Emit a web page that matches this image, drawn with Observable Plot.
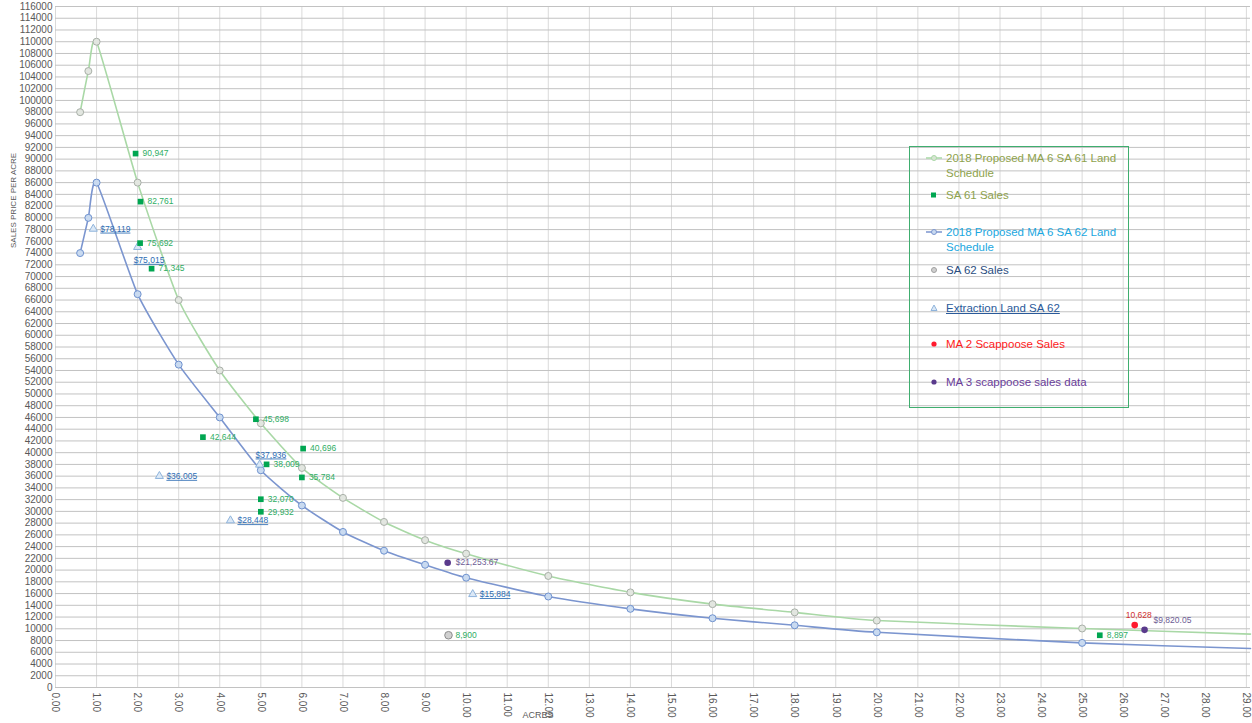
<!DOCTYPE html>
<html><head><meta charset="utf-8">
<script src="https://cdn.jsdelivr.net/npm/d3@7"></script>
<script src="https://cdn.jsdelivr.net/npm/@observablehq/plot@0.6"></script>
<style>
body{margin:0;background:#fff;font-family:"Liberation Sans",Arial,sans-serif;}
#wrap{position:relative;width:1252px;height:723px;overflow:hidden;}
#chart{position:absolute;left:0;top:0;}
#legend{position:absolute;left:909px;top:146px;width:218px;height:260px;border:1.5px solid #3fae6f;}
.le{position:absolute;left:0;font-size:11.5px;line-height:15px;white-space:nowrap;}
.le svg{position:absolute;left:16px;}
.le span{position:absolute;left:36px;}
</style></head>
<body><div id="wrap"><div id="chart"></div><div id="legend"></div></div>
<script>
// ---- data ----
const sa61SchedAcres = [0.6, 0.8, 1, 2, 3, 4, 5, 6, 7, 8, 9, 10, 12, 14, 16, 18, 20, 25, 29.1];
const sa61SchedPrice = [98000, 105000, 110000, 86000, 66000, 54000, 45000, 37400, 32300, 28200, 25100, 22800, 19000, 16200, 14200, 12800, 11400, 10050, 9100];
const sa62SchedAcres = [0.6, 0.8, 1, 2, 3, 4, 5, 6, 7, 8, 9, 10, 12, 14, 16, 18, 20, 25, 29.1];
const sa62SchedPrice = [74000, 80000, 86000, 67000, 55000, 46000, 37000, 31000, 26500, 23300, 20900, 18700, 15500, 13400, 11800, 10600, 9400, 7600, 6650];
const sa61SalesAcres = [1.95, 2.07, 2.06, 2.34, 4.88, 3.59, 6.03, 5.14, 6.0, 5.0, 5.0, 25.43];
const sa61SalesPrice = [90947, 82761, 75692, 71345, 45698, 42644, 40696, 38009, 35784, 32070, 29932, 8897];
const sa62SalesAcres = [9.57];
const sa62SalesPrice = [8900];
const extractionAcres = [0.92, 2.0, 2.53, 4.97, 4.26, 10.16];
const extractionPrice = [78119, 75015, 36005, 37936, 28448, 15884];
const ma2Acres = [26.28];
const ma2Price = [10628];
const ma3Acres = [9.55, 26.52];
const ma3Price = [21253.67, 9820.05];
const xTicks = [0,1,2,3,4,5,6,7,8,9,10,11,12,13,14,15,16,17,18,19,20,21,22,23,24,25,26,27,28,29];
const yTicks = d3.range(0, 116001, 2000);

// ---- build tables ----
const zip = (a, p) => a.map((v, i) => ({acres: v, price: p[i]}));
const sa61Sched = zip(sa61SchedAcres, sa61SchedPrice);
const sa62Sched = zip(sa62SchedAcres, sa62SchedPrice);
const sa61Sales = zip(sa61SalesAcres, sa61SalesPrice);
const sa62Sales = zip(sa62SalesAcres, sa62SalesPrice);
const extraction = zip(extractionAcres, extractionPrice);
const ma2 = zip(ma2Acres, ma2Price);
const ma3 = zip(ma3Acres, ma3Price);
const fInt = d3.format(",");
const fUsd = d3.format("$,");
const fUsd2 = d3.format("$,.2f");
const markerPts = (arr) => arr.slice(0, arr.length - 1);

const extAbove = new Set([37936]);
const extBelow = new Set([75015]);
const extRight = extraction.filter(d => !extAbove.has(d.price) && !extBelow.has(d.price));
const ma3Right = ma3.filter(d => d.acres < 20);
const ma3Up = ma3.filter(d => d.acres >= 20);

const EXT = "#2e6db4", FONT = '"Liberation Sans", Arial, sans-serif';
const lbl = {fontSize: 8.5, textAnchor: "start"};
const smooth = {curve: "cardinal", tension: 0.45};

const chart = Plot.plot({
  width: 1252, height: 723,
  marginLeft: 55, marginRight: 2, marginTop: 6, marginBottom: 36,
  style: {fontFamily: FONT, fontSize: "10px", color: "#595959", background: "transparent"},
  x: {domain: [0, 29.1], ticks: xTicks, tickFormat: d => d.toFixed(2), tickRotate: 90, tickSize: 0, tickPadding: 5, label: null},
  y: {domain: [0, 116000], ticks: yTicks, tickFormat: d => String(d), tickSize: 0, tickPadding: 3, label: null},
  marks: [
    Plot.ruleX(xTicks, {stroke: "#dadada"}),
    Plot.ruleY(yTicks, {stroke: "#c2c2c2"}),
    Plot.line(sa61Sched, {x: "acres", y: "price", stroke: "#a9d8a6", strokeWidth: 1.6, ...smooth}),
    Plot.line(sa62Sched, {x: "acres", y: "price", stroke: "#7b95cf", strokeWidth: 1.6, ...smooth}),
    Plot.dot(markerPts(sa61Sched), {x: "acres", y: "price", r: 3.5, fill: "#e2e6e0", stroke: "#a9b0a8", strokeWidth: 1}),
    Plot.dot(markerPts(sa62Sched), {x: "acres", y: "price", r: 3.5, fill: "#c9daf0", stroke: "#6f92cf", strokeWidth: 1}),
    Plot.dot(sa62Sales, {x: "acres", y: "price", r: 3.8, fill: "#d0d0d0", stroke: "#8c8c8c", strokeWidth: 1}),
    Plot.dot(extraction, {x: "acres", y: "price", symbol: "triangle", r: 3, fill: "#dbe8f6", stroke: "#8fb4dc", strokeWidth: 1}),
    Plot.dot(sa61Sales, {x: "acres", y: "price", symbol: "square", r: 3.2, fill: "#00a651"}),
    Plot.dot(ma2, {x: "acres", y: "price", r: 3.3, fill: "#ff1a2e"}),
    Plot.dot(ma3, {x: "acres", y: "price", r: 3.3, fill: "#5a3a8c"}),
    Plot.text(sa61Sales, {x: "acres", y: "price", text: d => fInt(d.price), dx: 7, fill: "#2fae64", ...lbl}),
    Plot.text(sa62Sales, {x: "acres", y: "price", text: d => fInt(d.price), dx: 7, fill: "#2fae64", ...lbl}),
    Plot.text(extRight, {x: "acres", y: "price", text: d => fUsd(d.price), dx: 7, fill: EXT, ...lbl}),
    Plot.text(extraction.filter(d => extBelow.has(d.price)), {x: "acres", y: "price", text: d => fUsd(d.price), dx: -4, dy: 13, fill: EXT, ...lbl}),
    Plot.text(extraction.filter(d => extAbove.has(d.price)), {x: "acres", y: "price", text: d => fUsd(d.price), dx: -4, dy: -10, fill: EXT, ...lbl}),
    Plot.text(ma2, {x: "acres", y: "price", text: d => fInt(d.price), dx: 4, dy: -10, fill: "#d0302f", fontSize: 8.5, textAnchor: "middle"}),
    Plot.text(ma3Right, {x: "acres", y: "price", text: d => fUsd2(d.price), dx: 8, fill: "#6d5c94", ...lbl}),
    Plot.text(ma3Up, {x: "acres", y: "price", text: d => fUsd2(d.price), dx: 9, dy: -10, fill: "#6d5c94", ...lbl}),
    Plot.text(["ACRES"], {frameAnchor: "bottom", dx: -115, dy: 30, fontSize: 9, fill: "#595959"}),
    Plot.text(["SALES PRICE PER ACRE"], {frameAnchor: "left", rotate: -90, dx: -42, dy: -99, fontSize: 8, fill: "#595959"})
  ]
});
document.getElementById("chart").appendChild(chart);
// underline the extraction-land labels
chart.querySelectorAll(`g[fill="${EXT}"] text`).forEach(t => t.style.textDecoration = "underline");

// ---- legend ----
const legendItems = [
  {lines: ["2018 Proposed MA 6 SA 61 Land", "Schedule"], color: "#8ea24c", mk: "line", mc: "#a9d8a6", mf: "#d8e4d4"},
  {lines: ["SA 61 Sales"], color: "#8ea24c", mk: "square", mc: "#00a651"},
  {lines: ["2018 Proposed MA 6 SA 62 Land", "Schedule"], color: "#1aa7e0", mk: "line", mc: "#7b95cf", mf: "#c9daf0"},
  {lines: ["SA 62 Sales"], color: "#2a4d7f", mk: "circle", mc: "#a0a0a0", mf: "#d0d0d0"},
  {lines: ["Extraction Land SA 62"], color: "#2a5a9a", mk: "triangle", mc: "#8fb4dc", underline: true},
  {lines: ["MA 2 Scappoose Sales"], color: "#ff1a1a", mk: "dot", mc: "#ff1a2e"},
  {lines: ["MA 3 scappoose sales data"], color: "#6a3d9a", mk: "dot", mc: "#5a3a8c"}
];
const legendTops = [4, 41, 78, 116, 154, 190, 228];
const lg = document.getElementById("legend");
legendItems.forEach((it, i) => {
  const d = document.createElement("div");
  d.className = "le";
  d.style.top = legendTops[i] + "px";
  let m = "";
  if (it.mk === "line") m = `<line x1="0" y1="7" x2="16" y2="7" stroke="${it.mc}" stroke-width="1.5"/><circle cx="8" cy="7" r="2.5" fill="${it.mf}" stroke="${it.mc}"/>`;
  else if (it.mk === "square") m = `<rect x="5" y="4.5" width="5" height="5" fill="${it.mc}"/>`;
  else if (it.mk === "circle") m = `<circle cx="8" cy="7" r="2.5" fill="${it.mf}" stroke="${it.mc}"/>`;
  else if (it.mk === "triangle") m = `<path d="M8,4 L11,9.5 L5,9.5Z" fill="#dbe8f6" stroke="${it.mc}"/>`;
  else m = `<circle cx="8" cy="7" r="2.6" fill="${it.mc}"/>`;
  d.innerHTML = `<svg width="16" height="14" style="top:0">${m}</svg><span style="color:${it.color};${it.underline ? "text-decoration:underline;" : ""}">${it.lines.join("<br>")}</span>`;
  lg.appendChild(d);
});
</script>
</body></html>
